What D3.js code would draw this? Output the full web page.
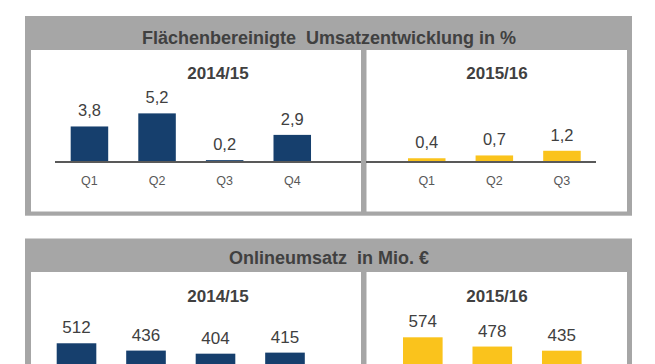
<!DOCTYPE html>
<html>
<head>
<meta charset="utf-8">
<script src="https://cdn.jsdelivr.net/npm/d3@7"></script>
<style>
  html, body { margin: 0; padding: 0; background: #fff; }
  svg { display: block; font-family: "Liberation Sans", Arial, sans-serif; }
</style>
</head>
<body>
<svg id="chart" width="655" height="364"></svg>
<script>
// ---- data ----
const titleTop = "Flächenbereinigte  Umsatzentwicklung in %";
const titleBottom = "Onlineumsatz  in Mio. €";
const yearLeft = "2014/15";
const yearRight = "2015/16";
const quartersLeft = ["Q1", "Q2", "Q3", "Q4"];
const quartersRight = ["Q1", "Q2", "Q3"];
const growth1415 = [3.8, 5.2, 0.2, 2.9];
const growth1516 = [0.4, 0.7, 1.2];
const online1415 = [512, 436, 404, 415];
const online1516 = [574, 478, 435];

const fmt = v => String(v).replace(".", ",");

const svg = d3.select("#chart");
const GRAY = "#a6a6a6", NAVY = "#163f6d", YELLOW = "#fac31c", TXT = "#404040", AX = "#595959";

function section(cfg) {
  const g = svg.append("g");
  // outer frame
  g.append("rect").attr("x", 25).attr("y", cfg.top).attr("width", 607).attr("height", cfg.bottom - cfg.top).attr("fill", GRAY);
  // inner panels
  g.append("rect").attr("x", 31).attr("y", cfg.bandBottom).attr("width", 330).attr("height", cfg.innerBottom - cfg.bandBottom).attr("fill", "#fff");
  g.append("rect").attr("x", 366.5).attr("y", cfg.bandBottom).attr("width", 260.5).attr("height", cfg.innerBottom - cfg.bandBottom).attr("fill", "#fff");
  // title
  g.append("text").attr("x", 329).attr("y", cfg.titleY).attr("text-anchor", "middle")
    .attr("font-size", 18).attr("font-weight", "bold").attr("fill", TXT)
    .style("white-space", "pre").text(cfg.title);
  // years
  g.append("text").attr("x", 218).attr("y", cfg.yearY).attr("text-anchor", "middle")
    .attr("font-size", 17).attr("font-weight", "bold").attr("fill", TXT).text(yearLeft);
  g.append("text").attr("x", 497).attr("y", cfg.yearY).attr("text-anchor", "middle")
    .attr("font-size", 17).attr("font-weight", "bold").attr("fill", TXT).text(yearRight);

  const y = d3.scaleLinear().domain(cfg.yDomain).range([cfg.base, cfg.yTopPx]);

  [[cfg.left, quartersLeft, cfg.xLeft, NAVY, cfg.axisLeft], [cfg.right, quartersRight, cfg.xRight, YELLOW, cfg.axisRight]]
    .forEach(([vals, cats, range, color, axisExt]) => {
      const x = d3.scaleBand().domain(cats).range(range).paddingInner(cfg.pin).paddingOuter(cfg.pout);
      const data = cats.map((c, i) => ({ c, v: vals[i] }));
      g.append("g").selectAll("rect").data(data).join("rect")
        .attr("x", d => x(d.c)).attr("width", x.bandwidth())
        .attr("y", d => y(d.v)).attr("height", d => y(0) - y(d.v))
        .attr("fill", color);
      g.append("g").selectAll("text").data(data).join("text")
        .attr("x", d => x(d.c) + x.bandwidth() / 2)
        .attr("y", d => y(d.v) - 10)
        .attr("text-anchor", "middle").attr("font-size", cfg.valSize).attr("fill", TXT)
        .text(d => fmt(d.v));
      if (cfg.showAxis) {
        g.append("line").attr("x1", axisExt[0]).attr("x2", axisExt[1])
          .attr("y1", cfg.base).attr("y2", cfg.base).attr("stroke", AX).attr("stroke-width", 2.2);
        const ax = g.append("g").attr("transform", `translate(0,${cfg.base})`)
          .call(d3.axisBottom(x).tickSize(0).tickPadding(14));
        ax.select(".domain").remove();
        ax.attr("font-size", null).attr("font-family", null);
        ax.selectAll("text").style("font-size", "12.5px").style("font-family", "'Liberation Sans', Arial, sans-serif").attr("fill", AX);
      }
    });
}

section({
  top: 16, bandBottom: 50, innerBottom: 211.5, bottom: 215.7,
  title: titleTop, titleY: 43.5, yearY: 79,
  base: 162, yDomain: [0, 6], yTopPx: 162 - 56.1,
  left: growth1415, right: growth1516,
  xLeft: [55, 326.7], xRight: [392.3, 596.4], pin: 0.445, pout: 0.232,
  axisLeft: [55, 361], axisRight: [366, 596],
  valSize: 16.5, showAxis: true
});

section({
  top: 238.5, bandBottom: 272, innerBottom: 420, bottom: 430,
  title: titleBottom, titleY: 264, yearY: 302,
  base: 392.6, yDomain: [0, 600], yTopPx: 392.6 - 57.8,
  left: online1415, right: online1516,
  xLeft: [42.8, 318.7], xRight: [389.1, 595.5], pin: 0.43, pout: 0.2,
  axisLeft: [42, 361], axisRight: [366, 596],
  valSize: 17, showAxis: false
});
</script>
</body>
</html>
